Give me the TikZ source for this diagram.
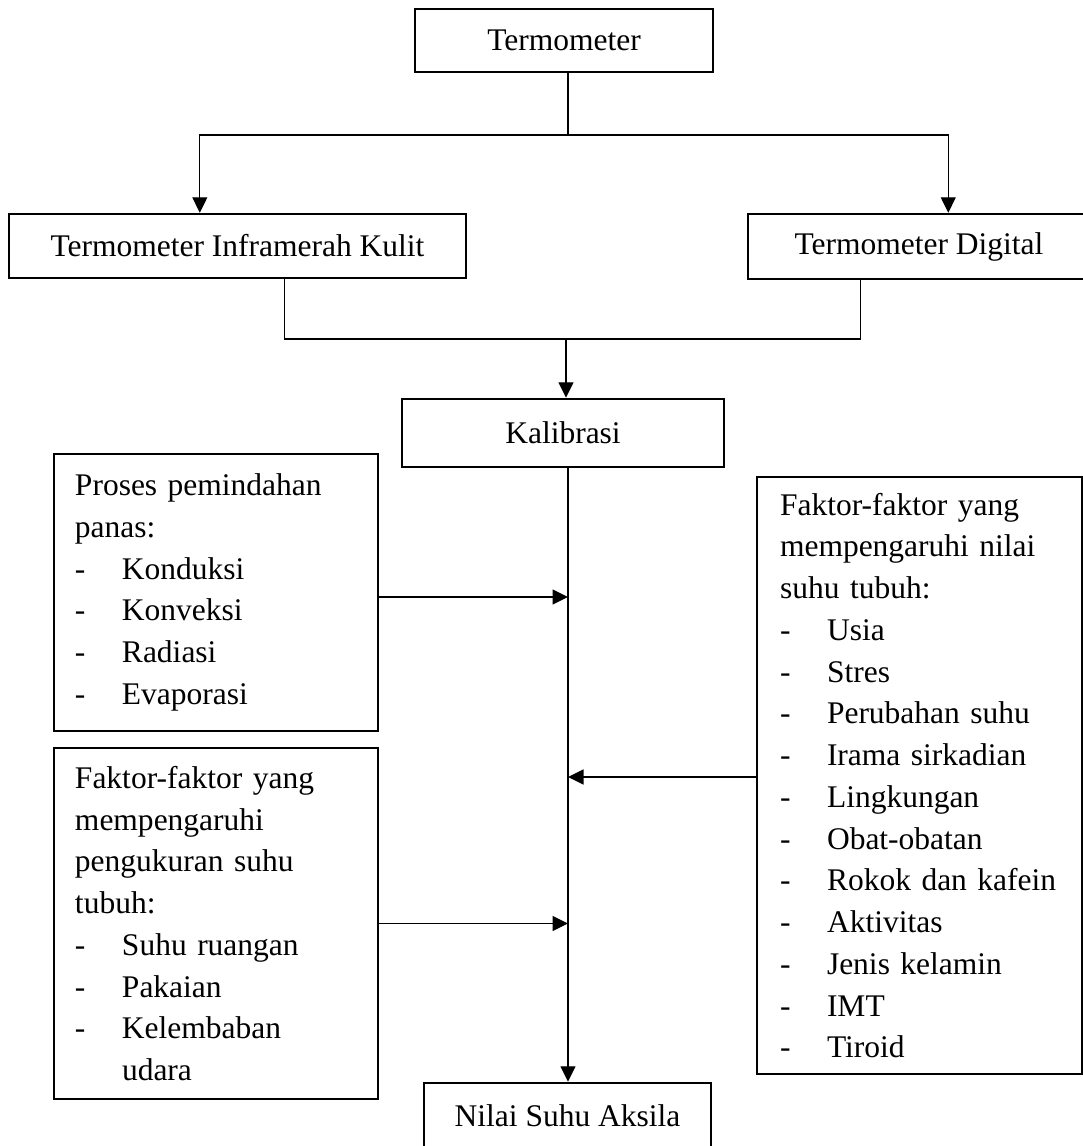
\documentclass[tikz,border=0pt]{standalone}
\usepackage{fontspec}
\setmainfont{Liberation Serif}
\usetikzlibrary{arrows.meta,calc}
\newcommand{\dashitem}[1]{\makebox[18.8pt][l]{-}#1}

\begin{document}
\begin{tikzpicture}[x=0.4pt, y=-0.4pt,
        box/.style={rectangle, draw, line width=1pt, inner sep=0pt, align=center,
            font=\fontsize{12.6}{16.7}\selectfont},
        listbox/.style={rectangle, draw, line width=1pt, inner ysep=0pt, align=left,
            font=\fontsize{12.6}{16.7}\selectfont},
        link/.style={line width=0.5pt},
        paths/.style={line width=0.5pt, -{Triangle[length=6.2pt,width=6pt]}}
    ]
    \useasboundingbox[fill=white] (0,0) rectangle (1083,1146);

        % Nodes
        \node[box, minimum width=119.2pt, minimum height=25.2pt] (term) at (564,40.5) {Termometer};
        \node[box, minimum width=182.8pt, minimum height=25.6pt] (ikt) at (237.5,246) {Termometer Inframerah Kulit};
        \node[box, minimum width=136.8pt, minimum height=26pt] (digital) at (919,246.5) {Termometer Digital};
        \node[box, minimum width=128.8pt, minimum height=27.2pt] (kal) at (563,433) {Kalibrasi};
        \node[box, minimum width=114.8pt, minimum height=26.4pt] (nilai) at (567.5,1116) {Nilai Suhu Aksila};

        \node[listbox, inner xsep=8.4pt, text width=112.8pt, minimum height=110.8pt] (proses) at (216,592.5) {%
            Proses pemindahan\\ panas:\\ \dashitem{Konduksi}\\ \dashitem{Konveksi}\\
            \dashitem{Radiasi}\\ \dashitem{Evaporasi}};
        \node[listbox, inner xsep=8.4pt, text width=112.8pt, minimum height=140.4pt] (ukur) at (216,923.5) {%
            Faktor-faktor yang\\ mempengaruhi\\ pengukuran suhu\\ tubuh:\\
            \dashitem{Suhu ruangan}\\ \dashitem{Pakaian}\\ \dashitem{Kelembaban}\\
            \hspace*{18.8pt}udara};
        \node[listbox, inner xsep=9.2pt, text width=111.6pt, minimum height=238.8pt] (faktor) at (919.5,775.5) {%
            Faktor-faktor yang\\ mempengaruhi nilai\\ suhu tubuh:\\
            \dashitem{Usia}\\ \dashitem{Stres}\\ \dashitem{Perubahan suhu}\\
            \dashitem{Irama sirkadian}\\ \dashitem{Lingkungan}\\ \dashitem{Obat-obatan}\\
            \dashitem{Rokok dan kafein}\\ \dashitem{Aktivitas}\\ \dashitem{Jenis kelamin}\\
            \dashitem{IMT}\\ \dashitem{Tiroid}};

        % Paths: split from Termometer
        \coordinate (split) at (568,135);
        \draw[link] (term.south -| split) -- (split);
        \draw[paths] (split) -| ($(ikt.north west)!0.418!(ikt.north east)$);
        \draw[paths] (split) -| ($(digital.north west)!0.585!(digital.north east)$);

        % Paths: join into Kalibrasi
        \coordinate (join) at (566,339);
        \draw[link] ($(ikt.south west)!0.602!(ikt.south east)$) |- (join)
            -| ($(digital.south west)!0.330!(digital.south east)$);
        \draw[paths] (join) -- (join |- kal.north);

        % Paths: main line and side inputs
        \draw[paths] (kal.south -| split) -- (nilai.north -| split);
        \draw[paths] ([yshift=-1.8pt]proses.east) -- ([yshift=-1.8pt]proses.east -| split);
        \draw[paths] ([yshift=-0.6pt]faktor.west) -- ([yshift=-0.6pt]faktor.west -| split);
        \draw[paths] (ukur.east) -- (ukur.east -| split);

    \end{tikzpicture}
\end{document}
